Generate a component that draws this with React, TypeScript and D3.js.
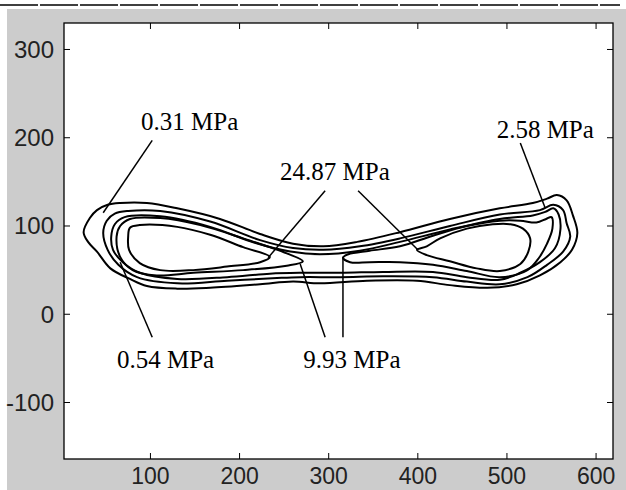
import * as d3 from "d3";

// contour outlines (x, y in plot units)
const contour031: [number, number][] = [
  [25, 93], [32, 109], [40, 118], [52, 124], [66, 126], [96, 126], [130, 120],
  [178, 108], [223, 91], [260, 80], [294, 77], [332, 82], [380, 93], [436, 108],
  [492, 120], [529, 126], [545, 131], [556, 135], [567, 129], [574, 112],
  [579, 92], [573, 73], [560, 59], [537, 44], [511, 34], [478, 30], [436, 33],
  [399, 38], [343, 38], [290, 35], [260, 37], [223, 34], [167, 30], [130, 29],
  [96, 32], [77, 40], [55, 52], [40, 71], [30, 82],
];

const contour054: [number, number][] = [
  [47, 92], [51, 106], [60, 114], [75, 117], [111, 117], [167, 105], [223, 84],
  [260, 75], [294, 73], [335, 77], [380, 86], [436, 100], [492, 113], [537, 118],
  [552, 124], [563, 118], [567, 103], [571, 88], [563, 71], [545, 56], [523, 42],
  [492, 34], [455, 37], [417, 42], [361, 43], [313, 42], [268, 42], [242, 41],
  [186, 38], [130, 35], [85, 42], [64, 56], [52, 73],
];

const contour258: [number, number][] = [
  [56, 88], [60, 102], [71, 110], [111, 111], [167, 99], [217, 81], [257, 71],
  [290, 68], [335, 72], [380, 82], [436, 96], [492, 108], [529, 112], [543, 116],
  [552, 120], [558, 113], [560, 96], [554, 75], [537, 59], [515, 47], [492, 39],
  [455, 42], [417, 48], [361, 48], [313, 47], [268, 47], [234, 46], [186, 42],
  [130, 40], [88, 47], [69, 59], [58, 73],
];

const contour993Left: [number, number][] = [
  [62, 88], [66, 100], [77, 108], [111, 109], [156, 101], [204, 86], [253, 69],
  [271, 60], [253, 55], [204, 50], [148, 47], [107, 44], [80, 50], [66, 65],
];

const contour993Right: [number, number][] = [
  [316, 64], [322, 68], [346, 72], [380, 77], [417, 89], [455, 100], [492, 106],
  [515, 106], [533, 104], [544, 108], [550, 110], [551, 97], [545, 80], [536, 64],
  [523, 50], [492, 42], [455, 49], [417, 56], [380, 59], [346, 59], [324, 59],
];

const contour2487Left: [number, number][] = [
  [75, 88], [77, 98], [88, 101], [130, 99], [167, 90], [204, 76], [234, 65],
  [223, 59], [186, 54], [148, 50], [111, 50], [88, 58], [76, 73],
];

const contour2487Right: [number, number][] = [
  [399, 73], [410, 77], [425, 86], [455, 97], [484, 102], [504, 102], [518, 97],
  [526, 86], [524, 71], [515, 57], [492, 49], [466, 52], [436, 60], [410, 67],
];

const contours = [
  contour031, contour054, contour258,
  contour993Left, contour993Right, contour2487Left, contour2487Right,
];

// labels: text position and leader line ends
const labelText = ["0.31 MPa", "2.58 MPa", "24.87 MPa", "0.54 MPa", "9.93 MPa"];
const labelAt: [number, number][] = [[144, 218], [543, 209], [307, 161], [117, -52], [326, -52]];
const leaders: [number, number, number, number][] = [
  [102, 197, 47, 115],
  [515, 194, 543, 120],
  [296, 140, 232, 64],
  [333, 140, 400, 73],
  [66, 59, 102, -26],
  [268, 57, 296, -26],
  [316, 64, 316, -26],
];

const xTicks = [100, 200, 300, 400, 500, 600];
const yTicks = [-100, 0, 100, 200, 300];

export default function App() {
  const width = 626;
  const height = 490;
  const left = 64, right = 613, top = 23, bottom = 459;

  const x = d3.scaleLinear().domain([3, 619]).range([left, right]);
  const y = d3.scaleLinear().domain([-164, 330]).range([bottom, top]);

  const line = d3
    .line<[number, number]>()
    .x((d) => x(d[0]))
    .y((d) => y(d[1]))
    .curve(d3.curveCatmullRomClosed.alpha(0.5));

  const tick = 6;

  return (
    <svg
      width={width}
      height={height}
      style={{ position: "absolute", left: 0, top: 0, display: "block" }}
    >
      <rect x={0} y={0} width={width} height={height} fill="#ffffff" />
      <line x1={0} x2={620} y1={5} y2={5} stroke="#000" strokeWidth={1.5} strokeDasharray="38 2" />
      <rect x={7} y={9} width={width - 7} height={height - 9} fill="#cccccc" />
      <rect x={left} y={top} width={right - left} height={bottom - top} fill="#ffffff" stroke="#000" strokeWidth={1.3} />

      {xTicks.map((t) => (
        <g key={"x" + t}>
          <line x1={x(t)} x2={x(t)} y1={bottom} y2={bottom - tick} stroke="#000" />
          <line x1={x(t)} x2={x(t)} y1={top} y2={top + tick} stroke="#000" />
          <text
            x={x(t)}
            y={484}
            textAnchor="middle"
            fontFamily="Liberation Sans, Arial, sans-serif"
            fontSize={23}
            fill="#222"
          >
            {t}
          </text>
        </g>
      ))}
      {yTicks.map((t) => (
        <g key={"y" + t}>
          <line x1={left} x2={left + tick} y1={y(t)} y2={y(t)} stroke="#000" />
          <line x1={right} x2={right - tick} y1={y(t)} y2={y(t)} stroke="#000" />
          <text
            x={54}
            y={y(t) + 8.5}
            textAnchor="end"
            fontFamily="Liberation Sans, Arial, sans-serif"
            fontSize={24}
            fill="#222"
          >
            {t}
          </text>
        </g>
      ))}

      {contours.map((c, i) => (
        <path key={i} d={line(c) ?? ""} fill="none" stroke="#000" strokeWidth={2} strokeLinejoin="round" />
      ))}

      {leaders.map((l, i) => (
        <line key={"l" + i} x1={x(l[0])} y1={y(l[1])} x2={x(l[2])} y2={y(l[3])} stroke="#000" strokeWidth={1.5} />
      ))}

      {labelText.map((s, i) => (
        <text
          key={s}
          x={x(labelAt[i][0])}
          y={y(labelAt[i][1]) + 8}
          textAnchor="middle"
          fontFamily="Liberation Serif, Times New Roman, serif"
          fontSize={25}
          fill="#000"
        >
          {s}
        </text>
      ))}
    </svg>
  );
}
